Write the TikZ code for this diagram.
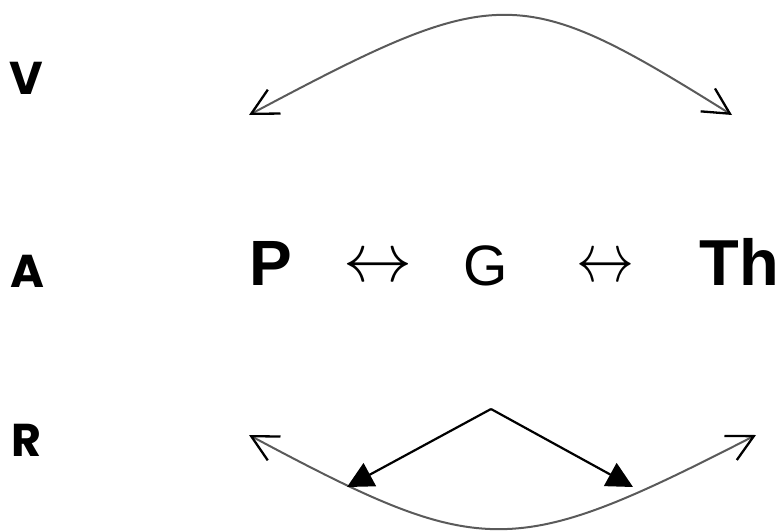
\documentclass[tikz,border=0pt]{standalone}
\usepackage{fontspec}
\setmainfont{Liberation Sans}
\newfontfamily\labfont{Poppins}
\usetikzlibrary{arrows.meta}
\definecolor{arcgray}{HTML}{5A5A5A}
\begin{document}
\begin{tikzpicture}[x=1pt,y=-1pt,
  lab/.style={anchor=base west,inner sep=0pt,font=\labfont\bfseries\fontsize{46}{46}\selectfont},
  bigtxt/.style={anchor=base,inner sep=0pt,font=\bfseries\fontsize{64}{64}\selectfont},
  regtxt/.style={anchor=base,inner sep=0pt,font=\fontsize{57}{57}\selectfont},
  dbl/.style={anchor=center,inner sep=0pt},
  arcline/.style={draw=arcgray,line width=2pt,
    {Straight Barb[length=26pt,width=27pt,line width=2.3pt,color=black]}-{Straight Barb[length=26pt,width=27pt,line width=2.3pt,color=black]}},
  blk/.style={draw=black,line width=2.2pt,-{Triangle[length=26pt,width=26pt]}}
]
\useasboundingbox (0,0) rectangle (778,530);
% row labels
\node[lab] (V) at (9,94) {V};
\node[lab] (A) at (10,287) {A};
\node[lab] (R) at (11,456) {R};
% middle row
\node[bigtxt] (P) at (271,285) {P};
\node[dbl] (d1) at (378,269) {\scalebox{6.9}{$\leftrightarrow$}};
\node[regtxt] (G) at (486,285) {G};
\node[dbl] (d2) at (605,269) {\scalebox{5.8}[6.9]{$\leftrightarrow$}};
\node[bigtxt,font=\bfseries\fontsize{65}{65}\selectfont] (Th) at (739,285) {Th};
% top arc
\coordinate (tl) at (249,115);
\coordinate (tr) at (732,115);
\draw[arcline] (tl) .. controls (499,-18) and (519,-18) .. (tr);
% bottom arc
\coordinate (bl) at (249,435);
\coordinate (br) at (756,435);
\draw[arcline] (bl) .. controls (483,560) and (512,560) .. (br);
% black arrows
\coordinate (apex) at (491,409);
\coordinate (lt) at (347,487);
\coordinate (rt) at (633,487);
\draw[blk] (apex) -- (lt);
\draw[blk] (apex) -- (rt);
\end{tikzpicture}
\end{document}
